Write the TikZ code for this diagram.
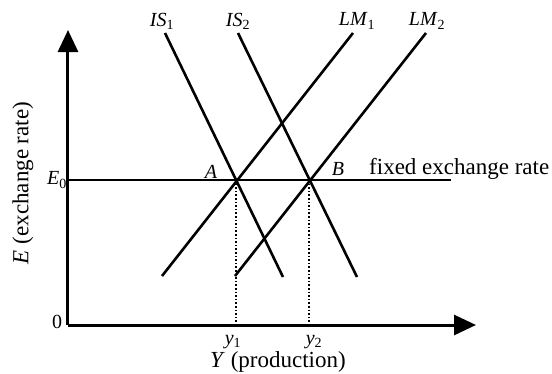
\documentclass[tikz,border=0pt]{standalone}
\usepackage{fontspec}
\setmainfont{Liberation Serif}
\usetikzlibrary{arrows.meta,calc,positioning}

\begin{document}
\begin{tikzpicture}[x=1pt, y=1pt, >={Triangle[length=22pt,width=20pt]},
    curve/.style={line width=2.6pt}, axis/.style={line width=3pt,->},
    guide/.style={dotted, line width=1.6pt}, lbl/.style={inner sep=0pt, font=\fontsize{20}{24}\selectfont},
    title/.style={inner sep=0pt, font=\fontsize{23}{27}\selectfont}]
    \useasboundingbox (-68,-48) rectangle (484,325);
    % axes
    \coordinate (o) at (0,0);   \coordinate (ytop) at (0,295);   \coordinate (xend) at (408,0);
    \draw[axis] (o) -- (ytop);  \draw[axis] (o) -- (xend);
    % fixed rate line and equilibria
    \coordinate (e0) at (0,145);  \coordinate (eend) at (383,145);
    \coordinate (a) at (168,145); \coordinate (b) at (241,145);
    \draw[curve] (e0) -- (eend);
    % IS and LM curves
    \coordinate (is1t) at (97,292);  \coordinate (is1b) at (215,48);
    \coordinate (is2t) at (170,292); \coordinate (is2b) at (289,48);
    \coordinate (lm1b) at (94,49);   \coordinate (lm1t) at (285,292);
    \coordinate (lm2b) at (167,49);  \coordinate (lm2t) at (358,292);
    \draw[curve] (is1t) -- (is1b);  \draw[curve] (is2t) -- (is2b);
    \draw[curve] (lm1b) -- (lm1t);  \draw[curve] (lm2b) -- (lm2t);
    \draw[guide] (a) -- (a |- o);   \draw[guide] (b) -- (b |- o);
    % labels
    \node[lbl] (nis1) at (94,304) {\textit{IS}\textsubscript{1}};
    \node[lbl] (nis2) at (170,304) {\textit{IS}\textsubscript{2}};
    \node[lbl] (nlm1) at (289,304) {\textit{LM}\textsubscript{1}};
    \node[lbl] (nlm2) at (359,304) {\textit{LM}\textsubscript{2}};
    \node[lbl] (na) at (143,153) {\textit{A}};  \node[lbl] (nb) at (270,156) {\textit{B}};
    \node[title, anchor=base west] (nfix) at (301,151) {fixed exchange rate};
    \node[lbl] (ne0) at (-11,145) {\textit{E}\textsubscript{0}};
    \node[lbl] (nzero) at (-11,3) {0};
    \node[lbl] (ny1) at (165,-17) {\textit{y}\textsubscript{1}};
    \node[lbl] (ny2) at (246,-17) {\textit{y}\textsubscript{2}};
    \node[title] (nxlab) at (210,-37) {\textit{Y} (production)};
    \node[title, rotate=90] (nylab) at (-45,142) {\textit{E} (exchange rate)};
  \end{tikzpicture}
\end{document}
